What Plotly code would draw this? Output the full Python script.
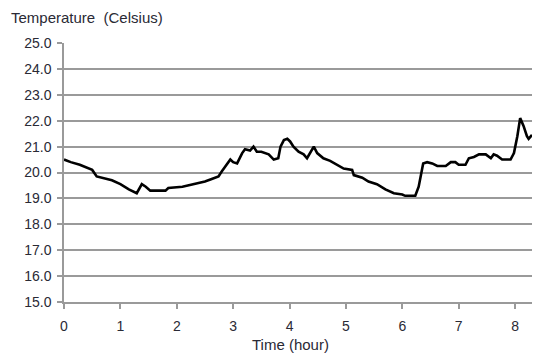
import plotly.graph_objects as go

# time in hours, temperature in Celsius
hours = [0, 0.12, 0.28, 0.4, 0.5, 0.58, 0.75, 0.85, 1.0, 1.15, 1.29, 1.38, 1.45, 1.53,
         1.8, 1.85, 2.1, 2.2, 2.35, 2.5, 2.62, 2.74, 2.8, 2.89, 2.95, 3.0, 3.07, 3.16,
         3.21, 3.3, 3.36, 3.42, 3.5, 3.63, 3.72, 3.8, 3.84, 3.9, 3.96, 4.01, 4.07, 4.16,
         4.25, 4.31, 4.37, 4.43, 4.49, 4.6, 4.72, 4.84, 4.96, 5.11, 5.14, 5.29, 5.4,
         5.55, 5.7, 5.85, 6.0, 6.05, 6.23, 6.29, 6.37, 6.44, 6.53, 6.62, 6.77, 6.86,
         6.94, 7.0, 7.12, 7.18, 7.27, 7.36, 7.42, 7.48, 7.57, 7.62, 7.68, 7.77, 7.92,
         7.98, 8.04, 8.09, 8.15, 8.21, 8.24, 8.3]
temps = [20.5, 20.4, 20.3, 20.2, 20.1, 19.85, 19.75, 19.7, 19.55, 19.35, 19.2, 19.55, 19.45, 19.3,
         19.3, 19.4, 19.45, 19.5, 19.6, 19.65, 19.75, 19.85, 20.05, 20.3, 20.5, 20.4, 20.35, 20.75,
         20.9, 20.85, 21.0, 20.8, 20.8, 20.7, 20.5, 20.55, 21.0, 21.25, 21.3, 21.2, 21.0, 20.8,
         20.7, 20.55, 20.8, 21.0, 20.75, 20.55, 20.45, 20.3, 20.15, 20.1, 19.9, 19.8, 19.65,
         19.55, 19.35, 19.2, 19.15, 19.1, 19.1, 19.45, 20.35, 20.4, 20.35, 20.25, 20.25, 20.4,
         20.4, 20.3, 20.3, 20.55, 20.6, 20.7, 20.7, 20.7, 20.55, 20.7, 20.65, 20.5, 20.5,
         20.75, 21.4, 22.1, 21.8, 21.4, 21.3, 21.45]

x_ticks = [0, 1, 2, 3, 4, 5, 6, 7, 8]
y_ticks = [15, 16, 17, 18, 19, 20, 21, 22, 23, 24, 25]

font = "Liberation Sans, Arial, sans-serif"
grid = "#9a9a9a"

fig = go.Figure()
fig.add_trace(go.Scatter(x=hours, y=temps, mode="lines",
                         line=dict(color="black", width=2.6), showlegend=False))

# page body adds ~8px offset, so margins are trimmed accordingly
fig.update_layout(
    width=550, height=360,
    margin=dict(l=56, r=26, t=35, b=66),
    paper_bgcolor="white", plot_bgcolor="white",
    font=dict(family=font, size=14, color="#2a2a35"),
    xaxis=dict(range=[0, 8.3], tickvals=x_ticks, showgrid=False, zeroline=False,
               showline=True, linecolor=grid, linewidth=1.5,
               ticks="outside", ticklen=5, tickcolor=grid, tickwidth=1.5,
               ticklabelstandoff=5, automargin=False),
    yaxis=dict(range=[15, 25], tickvals=y_ticks, tickformat=".1f",
               showgrid=True, gridcolor=grid, gridwidth=1.5, zeroline=False,
               showline=True, linecolor=grid, linewidth=1.5,
               ticks="outside", ticklen=5, tickcolor=grid, tickwidth=1.5,
               ticklabelstandoff=3, automargin=False),
    annotations=[
        dict(text="Temperature  (Celsius)", xref="paper", yref="paper",
             x=-0.118, y=1.1, xanchor="left", yanchor="middle",
             showarrow=False, font=dict(size=15, color="#2a2a35")),
        dict(text="Time (hour)", xref="paper", yref="paper",
             x=0.483, y=-0.165, xanchor="center", yanchor="middle",
             showarrow=False, font=dict(size=15, color="#2a2a35")),
    ],
)

fig.write_html("out.html")
